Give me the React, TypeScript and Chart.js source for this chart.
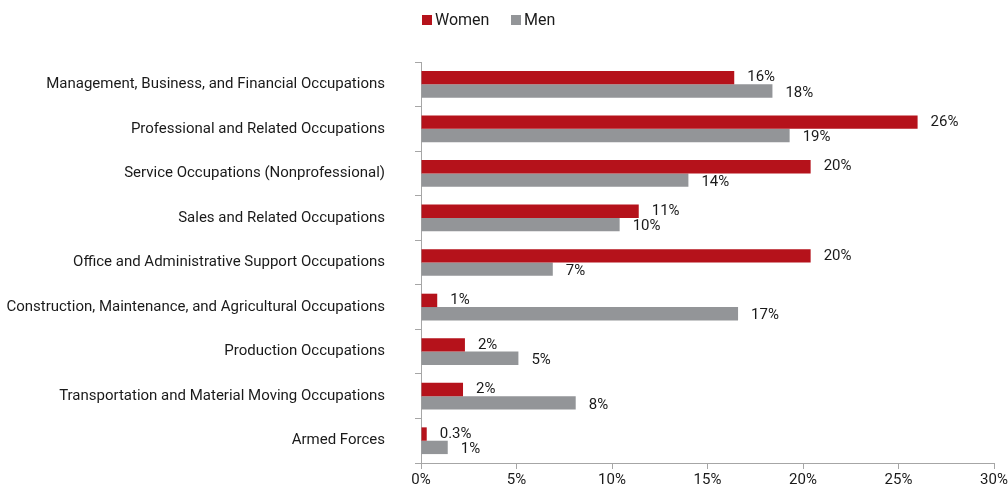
import React, { useEffect, useRef } from "react";
import { Chart, registerables } from "chart.js";

Chart.register(...registerables);

const categories = [
  "Management, Business, and Financial Occupations",
  "Professional and Related Occupations",
  "Service Occupations (Nonprofessional)",
  "Sales and Related Occupations",
  "Office and Administrative Support Occupations",
  "Construction, Maintenance, and Agricultural Occupations",
  "Production Occupations",
  "Transportation and Material Moving Occupations",
  "Armed Forces",
];
const women = [16.4, 26.0, 20.4, 11.4, 20.4, 0.85, 2.3, 2.2, 0.3];
const men = [18.4, 19.3, 14.0, 10.4, 6.9, 16.6, 5.1, 8.1, 1.4];
const xTicks = [0, 5, 10, 15, 20, 25, 30];

const RED = "#b5121b";
const GREY = "#939598";
const FONT = "Roboto, 'DejaVu Sans Condensed', sans-serif";
const TEXT = "#1a1a1a";

const fmt = (v: number) => (v < 0.5 ? v.toFixed(1) : String(Math.round(v))) + "%";

const labelPlugin = {
  id: "barLabels",
  afterDatasetsDraw(chart: any) {
    const ctx = chart.ctx;
    ctx.save();
    ctx.font = `15px ${FONT}`;
    ctx.fillStyle = TEXT;
    ctx.textAlign = "left";
    ctx.textBaseline = "middle";
    chart.data.datasets.forEach((ds: any, i: number) => {
      const meta = chart.getDatasetMeta(i);
      meta.data.forEach((bar: any, j: number) => {
        ctx.fillText(fmt(ds.data[j]), bar.x + 13, bar.y + (i === 0 ? 0 : 2));
      });
    });
    // legend
    const items = [
      { label: "Women", color: RED, x: 422 },
      { label: "Men", color: GREY, x: 511 },
    ];
    ctx.font = `16px ${FONT}`;
    items.forEach((it) => {
      ctx.fillStyle = it.color;
      ctx.fillRect(it.x, 15, 10, 10);
      ctx.fillStyle = TEXT;
      ctx.fillText(it.label, it.x + 13, 21);
    });
    ctx.restore();
  },
};

export default function App() {
  const ref = useRef<HTMLCanvasElement | null>(null);
  useEffect(() => {
    if (!ref.current) return;
    const chart = new Chart(ref.current, {
      type: "bar",
      data: {
        labels: categories,
        datasets: [
          { label: "Women", data: women, backgroundColor: RED, categoryPercentage: 0.6, barPercentage: 1.0 },
          { label: "Men", data: men, backgroundColor: GREY, categoryPercentage: 0.6, barPercentage: 1.0 },
        ],
      },
      options: {
        indexAxis: "y",
        animation: false,
        responsive: false,
        maintainAspectRatio: false,
        layout: { padding: { top: 62, right: 14, bottom: 0, left: 0 } },
        plugins: { legend: { display: false }, tooltip: { enabled: false } },
        scales: {
          x: {
            min: 0,
            max: 30,
            afterFit: (s: any) => { s.height = 32; s.paddingLeft = 0; s.paddingRight = 0; },
            afterBuildTicks: (s: any) => { s.ticks = xTicks.map((v) => ({ value: v })); },
            ticks: {
              callback: (v: any) => `${v}%`,
              font: { family: FONT, size: 15 },
              color: TEXT,
              padding: 2,
              maxRotation: 0,
            },
            grid: { drawOnChartArea: false, drawTicks: true, tickLength: 6, color: "#a6a6a6" },
            border: { color: "#a6a6a6" },
          },
          y: {
            afterFit: (s: any) => { s.width = 421; s.paddingTop = 0; s.paddingBottom = 0; },
            ticks: {
              font: { family: FONT, size: 15 },
              color: TEXT,
              padding: 30,
            },
            grid: { drawOnChartArea: false, drawTicks: true, tickLength: 6, color: "#a6a6a6", offset: true },
            border: { color: "#a6a6a6" },
          },
        },
      },
      plugins: [labelPlugin],
    });
    return () => chart.destroy();
  }, []);
  return (
    <div style={{ position: "fixed", left: 0, top: 0, width: 1008, height: 495, background: "#fff" }}>
      <canvas ref={ref} width={1008} height={495} style={{ width: 1008, height: 495 }} />
    </div>
  );
}
